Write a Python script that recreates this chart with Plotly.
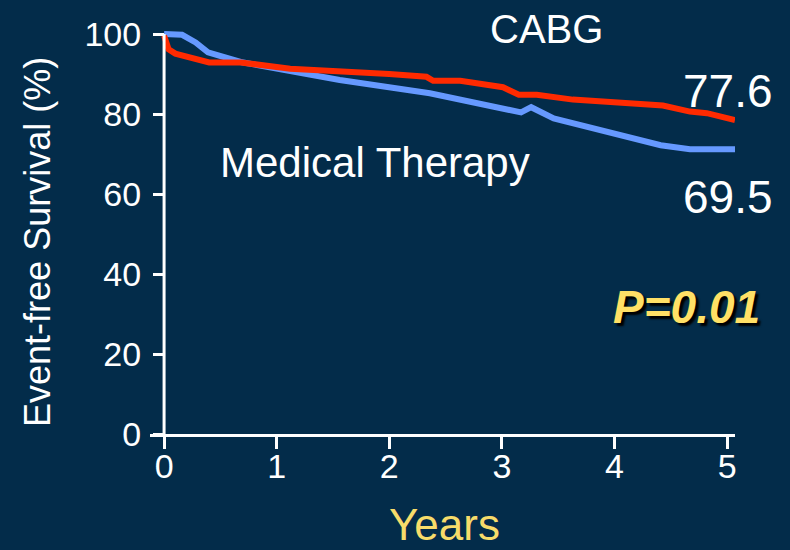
import plotly.graph_objects as go

# Data
med_years = [0, 0.16, 0.28, 0.39, 0.68, 1.56, 2.36, 3.01, 3.17, 3.26, 3.46, 4.41, 4.67, 5.07]
med_surv = [100, 99.8, 97.9, 95.4, 93.0, 88.5, 85.2, 81.4, 80.4, 81.7, 78.9, 72.2, 71.2, 71.2]

cabg_years = [0, 0.04, 0.1, 0.4, 0.68, 1.12, 2.0, 2.33, 2.39, 2.63, 3.01, 3.15, 3.31, 3.61, 3.63, 4.43, 4.67, 4.82, 5.07]
cabg_surv = [99.6, 96.2, 95.1, 92.9, 92.9, 91.3, 90.0, 89.3, 88.3, 88.3, 86.7, 84.8, 84.8, 83.9, 83.6, 82.1, 80.6, 80.2, 78.5]

x_ticks = [0, 1, 2, 3, 4, 5]
y_ticks = [0, 20, 40, 60, 80, 100]

BG = "#032c4a"
FONT = "Liberation Sans, Arial, sans-serif"

fig = go.Figure()
fig.add_trace(go.Scatter(x=med_years, y=med_surv, mode="lines",
                         line=dict(color="#6699ff", width=6), name="Medical Therapy"))
fig.add_trace(go.Scatter(x=cabg_years, y=cabg_surv, mode="lines",
                         line=dict(color="#ff2a00", width=6), name="CABG"))

fig.add_shape(type="line", x0=0, x1=0, y0=0, y1=100, xref="x", yref="y",
              line=dict(color="white", width=3), layer="above")

ann = [
    dict(x=3.40, y=101.2, text="CABG", size=40, color="white"),
    dict(x=5.01, y=85.7, text="77.6", size=46, color="white"),
    dict(x=1.874, y=68.0, text="Medical Therapy", size=42, color="white"),
    dict(x=5.01, y=59.2, text="69.5", size=46, color="white"),
]
for a in ann:
    fig.add_annotation(x=a["x"], y=a["y"], xref="x", yref="y", text=a["text"],
                       showarrow=False, xanchor="center", yanchor="middle",
                       font=dict(family=FONT, size=a["size"], color=a["color"]))

fig.add_annotation(x=4.64, y=31.8, xref="x", yref="y", text="<b><i>P=0.01</i></b>",
                   showarrow=False, xanchor="center", yanchor="middle",
                   font=dict(family=FONT, size=46, color="#ffe066",
                             shadow="3px 3px 2px #000000"))

fig.add_annotation(x=0.504, y=-0.222, xref="paper", yref="paper", text="Years",
                   showarrow=False, xanchor="center", yanchor="middle",
                   font=dict(family=FONT, size=44, color="#f7dc6a"))

fig.add_annotation(x=-0.1915, y=0.473, xref="paper", yref="paper", text="Event-free Survival (%)",
                   textangle=-90, showarrow=False, xanchor="center", yanchor="middle",
                   font=dict(family=FONT, size=36, color="white"))

fig.update_layout(
    width=790, height=550,
    paper_bgcolor=BG, plot_bgcolor=BG,
    margin=dict(l=150, r=55, t=28, b=116),
    showlegend=False,
    xaxis=dict(range=[-0.125, 5.07], tickvals=x_ticks, ticktext=[str(v) for v in x_ticks],
               showgrid=False, zeroline=False, showline=True, linecolor="white", linewidth=3,
               ticks="outside", ticklen=12, tickwidth=3, tickcolor="white",
               ticklabelstandoff=-12,
               tickfont=dict(family=FONT, size=34, color="white")),
    yaxis=dict(range=[0, 101.5], tickvals=y_ticks, ticktext=[str(v) for v in y_ticks],
               anchor="free", position=14 / 585,
               showgrid=False, zeroline=False, showline=False,
               ticks="outside", ticklen=11, tickwidth=3, tickcolor="white",
               ticklabelstandoff=5,
               tickfont=dict(family=FONT, size=34, color="white")),
)

fig.write_html("out.html", config={"displayModeBar": False},
               post_script="document.body.style.margin='0';document.body.style.background='" + BG + "';")
